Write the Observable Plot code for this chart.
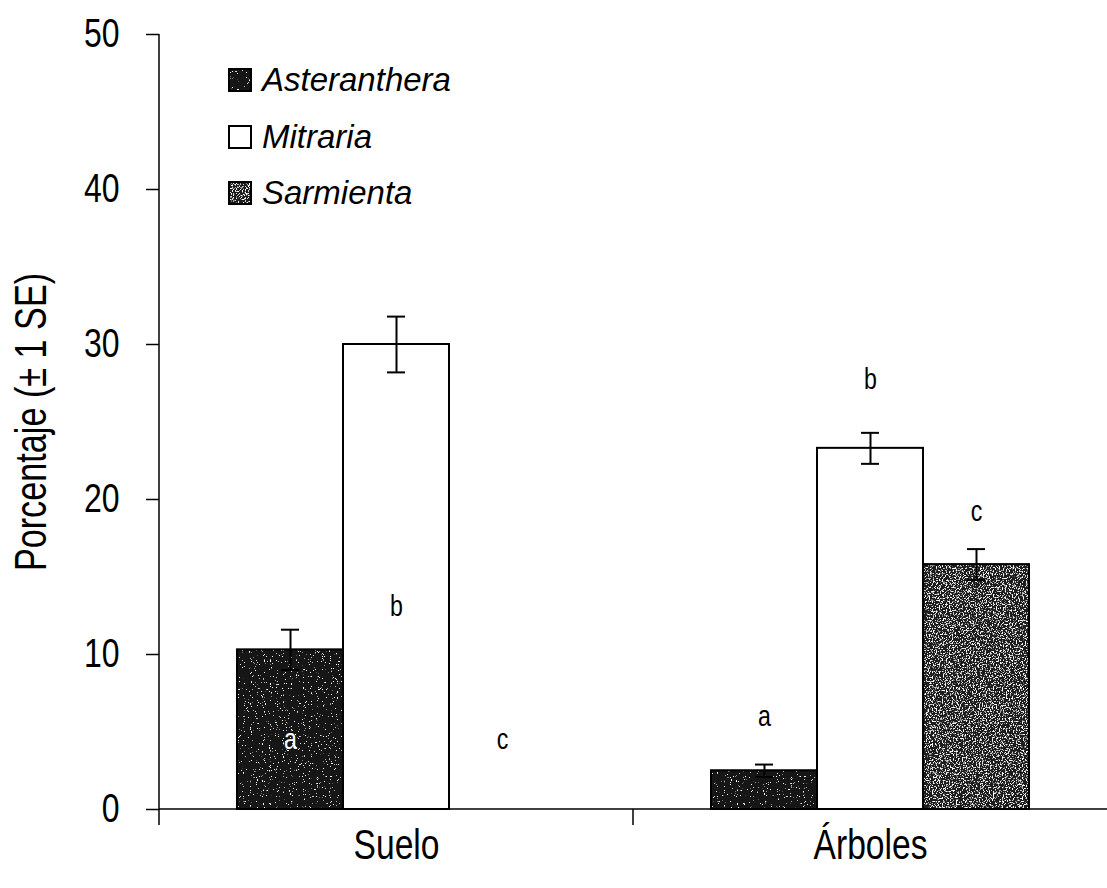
<!DOCTYPE html>
<html>
<head>
<meta charset="utf-8">
<script src="https://cdn.jsdelivr.net/npm/d3@7"></script>
<script src="https://cdn.jsdelivr.net/npm/@observablehq/plot@0.6"></script>
<style>
  body { margin: 0; background: #fff; }
  #chart { position: relative; width: 1107px; height: 888px; }
  #chart svg.plot { display: block; }
  .legend {
    position: absolute; left: 228px; top: 52px;
    font-family: "Liberation Sans", Arial, sans-serif;
    font-style: italic; font-size: 33px; line-height: 56.5px; color: #000;
  }
  .legend .row { display: flex; align-items: center; }
  .legend .row svg { margin-right: 10px; }
</style>
</head>
<body>
<!-- grainy fills for the dark and mottled bars -->
<svg width="0" height="0" style="position:absolute">
  <defs>
    <filter id="grain-sparse" x="0" y="0" width="1" height="1">
      <feTurbulence type="fractalNoise" baseFrequency="0.85" numOctaves="2" seed="4" result="noise"/>
      <feColorMatrix in="noise" type="matrix" values="0 0 0 0 1  0 0 0 0 1  0 0 0 0 1  16 0 0 0 -10.9" result="specks"/>
      <feMerge><feMergeNode in="SourceGraphic"/><feMergeNode in="specks"/></feMerge>
    </filter>
    <filter id="grain-dense" x="0" y="0" width="1" height="1">
      <feTurbulence type="fractalNoise" baseFrequency="0.7" numOctaves="2" seed="9" result="noise"/>
      <feColorMatrix in="noise" type="matrix" values="0 0 0 0 1  0 0 0 0 1  0 0 0 0 1  7 0 0 0 -3.75" result="specks"/>
      <feMerge><feMergeNode in="SourceGraphic"/><feMergeNode in="specks"/></feMerge>
    </filter>
    <pattern id="fill-asteranthera" patternUnits="userSpaceOnUse" width="300" height="300">
      <rect width="300" height="300" fill="#121212" filter="url(#grain-sparse)"/>
    </pattern>
    <pattern id="fill-sarmienta" patternUnits="userSpaceOnUse" width="300" height="300">
      <rect width="300" height="300" fill="#1c1c1c" filter="url(#grain-dense)"/>
    </pattern>
  </defs>
</svg>

<div id="chart"></div>

<script>
// Habitat groups and species
const sites = ["Suelo", "Árboles"];
const species = ["Asteranthera", "Mitraria", "Sarmienta"];

// Mean percentage per species, and its standard error
const sueloValues = [10.3, 30.0, 0];
const sueloSE = [1.3, 1.8, null];
const arbolesValues = [2.5, 23.3, 15.8];
const arbolesSE = [0.4, 1.0, 1.0];

// Significance letters and the height at which each is written
const sueloLetters = ["a", "b", "c"];
const sueloLetterY = [4.5, 13.1, 4.5];
const arbolesLetters = ["a", "b", "c"];
const arbolesLetterY = [6.0, 27.7, 19.2];

// Axis text
const yTicks = [0, 10, 20, 30, 40, 50];
const yLabel = "Porcentaje (± 1 SE)";

const fills = ["url(#fill-asteranthera)", "#ffffff", "url(#fill-sarmienta)"];

const table = [
  [sites[0], sueloValues, sueloSE, sueloLetters, sueloLetterY],
  [sites[1], arbolesValues, arbolesSE, arbolesLetters, arbolesLetterY]
].flatMap(([site, vals, ses, letters, letterY]) =>
  species.map((sp, j) => ({
    site, species: sp, value: vals[j], se: ses[j], letter: letters[j], letterY: letterY[j],
    // letter sitting on a dark bar is written in white
    onDark: j !== 1 && letterY[j] < vals[j]
  }))
);
const withSE = table.filter(d => d.se != null);

const sans = `"Liberation Sans", Arial, sans-serif`;

// Base line of each group, the category divider ticks and the vertical axis line.
// Facets are drawn left to right, so the first call belongs to the first group.
let facetCount = 0;
function axisLines(index, scales) {
  const {x, y} = scales;
  const [x0, x1] = x.range();
  const y0 = y(0);
  const first = facetCount++ === 0;
  const g = d3.create("svg:g").attr("stroke", "#000").attr("stroke-width", 1.5).attr("fill", "none");
  g.append("line").attr("x1", x0).attr("x2", x1).attr("y1", y0).attr("y2", y0);
  g.append("line")
    .attr("x1", x0).attr("x2", x0)
    .attr("y1", first ? y(50) : y0)
    .attr("y2", y0 + 16);
  return g.node();
}

const chart = Plot.plot({
  width: 1107,
  height: 888,
  marginTop: 34,
  marginBottom: 79,
  marginLeft: 158,
  marginRight: 0,
  style: {fontFamily: sans, color: "#000", background: "transparent", overflow: "visible"},
  fx: {domain: sites, padding: 0, label: null},
  x: {domain: species, paddingInner: 0, paddingOuter: 0.72, axis: null},
  y: {domain: [0, 50], axis: null},
  color: {domain: species, range: fills},
  marks: [
    Plot.barY(table, {fx: "site", x: "species", y: "value", fill: "species", stroke: "#000", strokeWidth: 2}),
    Plot.ruleX(withSE, {fx: "site", x: "species", y1: d => d.value - d.se, y2: d => d.value + d.se, stroke: "#000", strokeWidth: 2}),
    Plot.tickY(withSE, {fx: "site", x: "species", y: d => d.value + d.se, insetLeft: 44, insetRight: 44, stroke: "#000", strokeWidth: 2}),
    Plot.tickY(withSE, {fx: "site", x: "species", y: d => d.value - d.se, insetLeft: 44, insetRight: 44, stroke: "#000", strokeWidth: 2}),
    Plot.text(table.filter(d => !d.onDark), {fx: "site", x: "species", y: "letterY", text: "letter", fill: "#000", fontSize: 29, lineAnchor: "middle"}),
    Plot.text(table.filter(d => d.onDark), {fx: "site", x: "species", y: "letterY", text: "letter", fill: "#fff", fontSize: 29, lineAnchor: "middle"}),
    axisLines,
    Plot.axisY({ticks: yTicks, tickSize: 13, tickPadding: 27, fontSize: 40, strokeWidth: 1.5,
      label: yLabel, labelAnchor: "center", labelOffset: 145, labelArrow: "none"}),
    Plot.axisFx({anchor: "bottom", tickSize: 0, tickPadding: 20, fontSize: 42, label: null})
  ]
});
chart.classList.add("plot");
const holder = document.getElementById("chart");
holder.appendChild(chart);

// The axis lettering is a condensed face: squeeze each run of text horizontally;
// the vertical title is set a little larger than the tick labels
for (const t of chart.querySelectorAll("text")) {
  const isTitle = t.textContent === yLabel;
  if (isTitle) t.setAttribute("font-size", 45);
  const len = t.getComputedTextLength();
  if (len > 0) {
    t.setAttribute("textLength", (len * (isTitle ? 0.76 : 0.8)).toFixed(1));
    t.setAttribute("lengthAdjust", "spacingAndGlyphs");
  }
}

// Legend inside the plot area, reusing the bar fills
const legend = document.createElement("div");
legend.className = "legend";
species.forEach((sp, i) => {
  const row = document.createElement("div");
  row.className = "row";
  row.innerHTML = `<svg width="24" height="24"><rect x="1" y="1" width="22" height="22" fill="${fills[i]}" stroke="#000" stroke-width="2"/></svg><span>${sp}</span>`;
  legend.appendChild(row);
});
holder.appendChild(legend);
</script>
</body>
</html>
